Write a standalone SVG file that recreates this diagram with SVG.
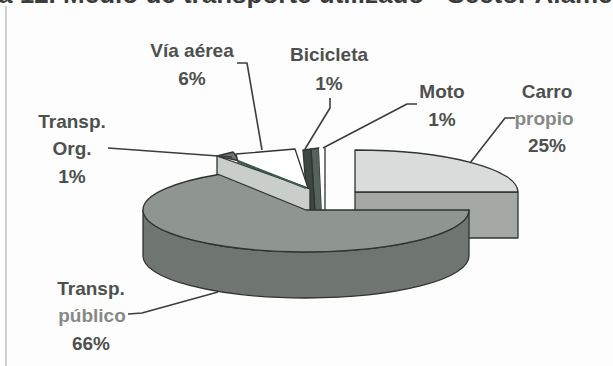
<svg xmlns="http://www.w3.org/2000/svg" width="613" height="366" viewBox="0 0 613 366">
<style>
.lbl{font-family:"Liberation Sans",Arial,sans-serif;font-size:19px;font-weight:bold;fill:#4c514e;text-anchor:middle}
.lt{fill:#858a87}
.edge{stroke:#2f3431;stroke-width:1.3;stroke-linejoin:round}
.lead{fill:none;stroke:#3a3f3c;stroke-width:1.6;stroke-linejoin:round}
</style>
<rect width="613" height="366" fill="#fdfdfd"/>
<text x="-2" y="3" font-family="Liberation Sans,Arial,sans-serif" font-size="26" font-weight="bold" fill="#3a3d3b">a 12. Medio de transporte utilizado - Sector Alameda</text>
<line x1="6" y1="6" x2="6" y2="366" stroke="#cfd1d0" stroke-width="2"/>
<g id="carro">
<rect class="edge" x="355" y="192" width="163" height="46" fill="#a3a8a5"/>
<path class="edge" d="M355,192 L355,150 A163,42 0 0 1 518,192 Z" fill="#d9dcda"/>
</g>
<g id="moto">
<path class="edge" d="M311,149 L319,148 L322,214 L315,214 Z" fill="#56625d"/>
<path d="M319,148 L325,148 L325,214 L322,214 Z" fill="#ffffff"/>
<line class="edge" x1="325" y1="148" x2="325" y2="214"/>
</g>
<g id="bicicleta">
<path class="edge" d="M303,150 L311,149 L315,214 L308,214 Z" fill="#3e4843"/>
</g>
<g id="transp-org">
<path class="edge" d="M217,156 L310,189 L310,216 L217,186 Z" fill="#c9cecb"/>
<path class="edge" d="M217,156 L233,152 L240,161 Z" fill="#6b7470"/>
</g>
<g id="via-aerea">
<path class="edge" d="M236,154 L295,149 L308,188 L238,162 Z" fill="#ffffff"/>
<line x1="238" y1="161" x2="306" y2="188" stroke="#3d5a50" stroke-width="2"/>
</g>
<g id="transp-publico">
<path class="edge" d="M469,210 A163,42 0 0 1 143,210 L143,256 A163,42 0 0 0 469,256 Z" fill="#6f7571"/>
<path class="edge" d="M306,210 L469,210 A163,42 0 1 1 218.7,174.5 Z" fill="#8f9591"/>
</g>
<g id="connectors">
<path class="lead" d="M108,148 L232,157"/>
<path class="lead" d="M237,63 L247,63 L262,150"/>
<path class="lead" d="M330,98 L330,108 L305,149"/>
<path class="lead" d="M417,104 L407,104 L323,148"/>
<path class="lead" d="M515,118 L505,118 L470,163"/>
<path class="lead" d="M128,314 L142,313 L218,292"/>
</g>
<g id="labels">
<text class="lbl" x="72" y="128">Transp.</text>
<text class="lbl" x="72" y="155">Org.</text>
<text class="lbl" x="72" y="183">1%</text>
<text class="lbl" x="192" y="57">Vía aérea</text>
<text class="lbl" x="192" y="85">6%</text>
<text class="lbl" x="329" y="61">Bicicleta</text>
<text class="lbl" x="329" y="90">1%</text>
<text class="lbl" x="442" y="98">Moto</text>
<text class="lbl" x="442" y="126">1%</text>
<text class="lbl" x="547" y="98">Carro</text>
<text class="lbl lt" x="544" y="125">propio</text>
<text class="lbl" x="547" y="152">25%</text>
<text class="lbl" x="91" y="295">Transp.</text>
<text class="lbl lt" x="92" y="322">público</text>
<text class="lbl" x="91" y="350">66%</text>
</g>
</svg>
